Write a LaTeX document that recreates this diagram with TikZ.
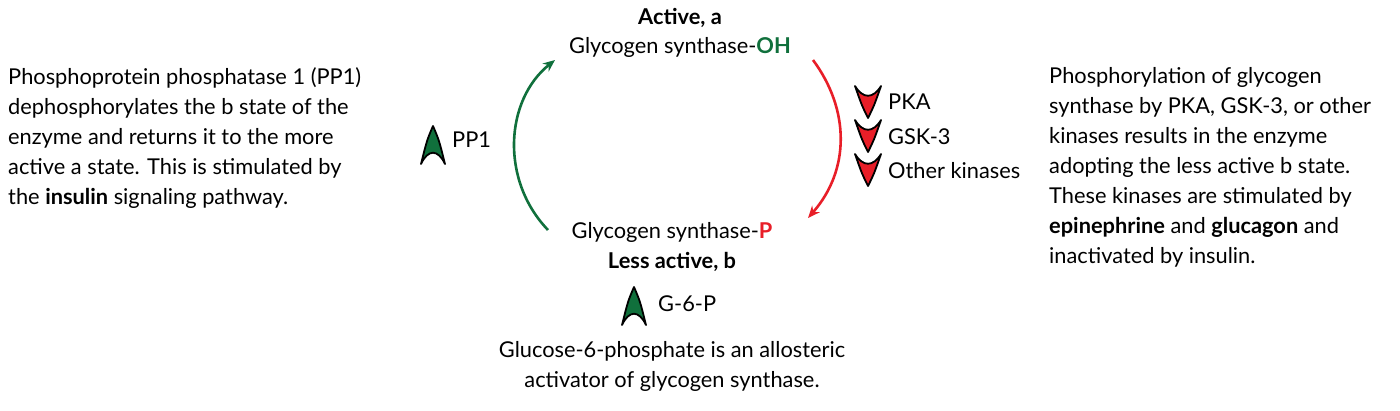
\documentclass[tikz,border=0pt]{standalone}
\usepackage{fontspec}
\usetikzlibrary{arrows.meta}
\setmainfont{Lato}
\definecolor{gG}{RGB}{16,112,60}
\definecolor{rR}{RGB}{232,30,40}
\begin{document}
\begin{tikzpicture}[x=1pt,y=-1pt,
  txt/.style={font=\fontsize{21.8}{30}\selectfont,inner sep=0pt},
  lbl/.style={txt,anchor=west},
  arr/.style={line width=2.6pt,-{Stealth[length=12pt,width=10pt]}}]
\useasboundingbox (0,0) rectangle (1400,410);
\newcommand{\chev}[3]{% x,y,color; up
  \filldraw[fill=#3,draw=black,line width=1.8pt,line join=round]
   (#1,#2-19) .. controls (#1+6,#2-5) .. (#1+12,#2+19)
   .. controls (#1+5,#2+4) and (#1-5,#2+4) .. (#1-12,#2+19)
   .. controls (#1-6,#2-5) .. cycle;}
\newcommand{\chevd}[3]{%
  \filldraw[fill=#3,draw=black,line width=1.8pt,line join=round]
   (#1,#2+16) .. controls (#1+6,#2+4) .. (#1+13,#2-16)
   .. controls (#1+5,#2-3) and (#1-5,#2-3) .. (#1-13,#2-16)
   .. controls (#1-6,#2+4) .. cycle;}
\node[txt,font=\fontsize{21.8}{30}\selectfont\bfseries] (act) at (680,18) {Active, a};
\node[txt] (gsoh) at (680,47) {Glycogen synthase-\textbf{\textcolor{gG}{OH}}};
\node[txt] (gsp) at (672,232) {Glycogen synthase-\textbf{\textcolor{rR}{P}}};
\node[txt,font=\fontsize{21.8}{30}\selectfont\bfseries] (less) at (672,262) {Less active, b};
\coordinate (g1) at (548,230); \coordinate (g2) at (555,60);
\coordinate (r1) at (813,60); \coordinate (r2) at (808,218);
\draw[arr,gG] (g1) .. controls (500,180) and (505,100) .. (g2);
\draw[arr,rR] (r1) .. controls (850,110) and (850,170) .. (r2);
\chev{433}{145}{gG}
\node[lbl] (pp1) at (452,140) {PP1};
\chevd{868}{102}{rR}\chevd{868}{136}{rR}\chevd{868}{170}{rR}
\node[lbl] (pka) at (888,102) {PKA};
\node[lbl] (gsk) at (888,137) {GSK-3};
\node[lbl] (oth) at (888,171) {Other kinases};
\chev{634}{306}{gG}
\node[lbl] (g6p) at (658,304) {G-6-P};
\node[txt,align=center,anchor=north] (bot) at (672,341) {Glucose-6-phosphate is an allosteric\\activator of glycogen synthase.};
\node[txt,align=left,anchor=north west] (left) at (8,67) {Phosphoprotein phosphatase 1 (PP1)\\dephosphorylates the b state of the\\enzyme and returns it to the more\\active a state. This is stimulated by\\the \textbf{insulin} signaling pathway.};
\node[txt,align=left,anchor=north west] (right) at (1049,67) {Phosphorylation of glycogen\\synthase by PKA, GSK-3, or other\\kinases results in the enzyme\\adopting the less active b state.\\These kinases are stimulated by\\\textbf{epinephrine} and \textbf{glucagon} and\\inactivated by insulin.};
\end{tikzpicture}
\end{document}
